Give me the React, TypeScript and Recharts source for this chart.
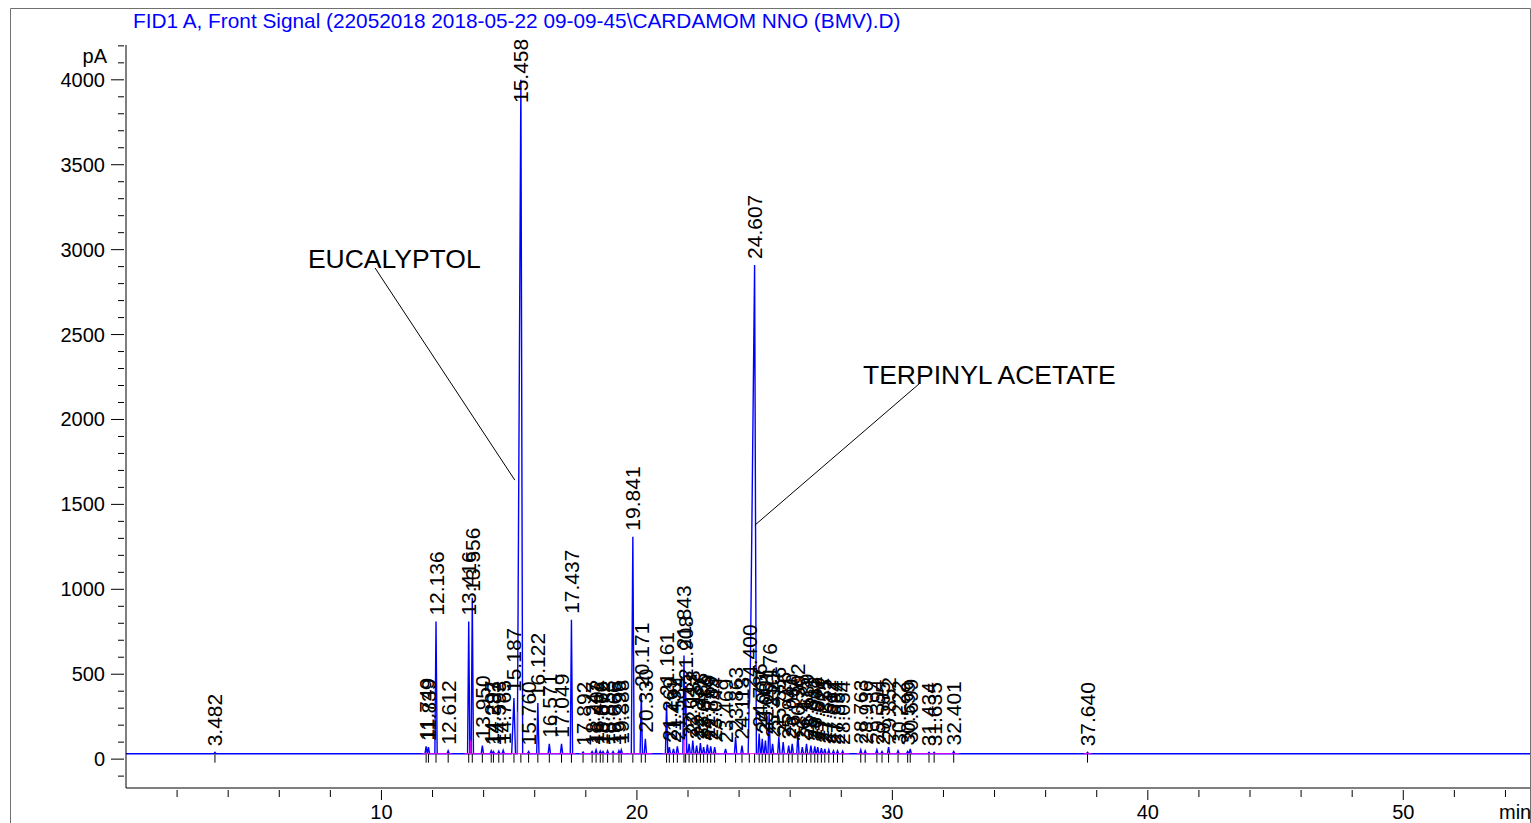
import React from 'react';
import {
  ComposedChart,
  Line,
  Scatter,
  XAxis,
  YAxis,
  ReferenceLine,
  ReferenceDot,
} from 'recharts';

const FONT = '"Liberation Sans", Arial, Helvetica, sans-serif';
const TITLE = 'FID1 A, Front Signal (22052018 2018-05-22 09-09-45\\CARDAMOM NNO (BMV).D)';

const RUN_END = 55;
const BASE = 32; // detector baseline, pA

// retention times (min) of the integrated peaks
const retentionTimes = [
  3.482, 11.749, 11.839, 12.136, 12.612, 13.416, 13.556, 13.95, 14.297, 14.383,
  14.593, 14.765, 15.187, 15.458, 15.76, 16.122, 16.571, 17.049, 17.437, 17.892,
  18.247, 18.402, 18.566, 18.672, 18.853, 19.066, 19.296, 19.388, 19.841, 20.171,
  20.33, 21.161, 21.269, 21.431, 21.584, 21.843, 21.908, 22.043, 22.188, 22.337,
  22.486, 22.612, 22.759, 22.889, 23.044, 23.469, 23.863, 24.113, 24.4, 24.607,
  24.786, 24.907, 25.031, 25.176, 25.31, 25.556, 25.726, 25.941, 26.08, 26.302,
  26.475, 26.639, 26.811, 26.962, 27.079, 27.221, 27.355, 27.512, 27.694, 27.854,
  28.054, 28.763, 28.936, 29.394, 29.595, 29.852, 30.222, 30.599, 30.699, 31.434,
  31.635, 32.401, 37.64,
];

// apex heights (pA)
const peakHeights = [
  40, 75, 70, 810, 50, 810, 950, 80, 50, 45,
  48, 52, 360, 4000, 45, 330, 90, 90, 820, 42,
  45, 55, 48, 45, 50, 45, 50, 55, 1310, 390,
  120, 335, 70, 60, 75, 610, 430, 90, 110, 80,
  95, 70, 85, 75, 70, 60, 130, 80, 380, 2910,
  150, 120, 110, 270, 90, 130, 100, 80, 90, 150,
  70, 90, 80, 75, 70, 65, 60, 55, 50, 50,
  48, 55, 50, 55, 45, 70, 50, 45, 60, 40,
  40, 45, 40,
];

// wider fronts / tails for the big peaks (min), others use DEFAULT_W
const frontWidths: Record<number, number> = { 15.458: 0.14, 24.607: 0.2, 19.841: 0.06, 15.187: 0.09 };
const tailWidths: Record<number, number> = { 15.458: 0.07, 24.607: 0.07, 15.187: 0.06, 19.841: 0.05 };
const DEFAULT_W = 0.045;

// integration baseline segments (min)
const baselineSegments = [
  [11.6, 12.75], [13.25, 17.6], [17.75, 19.6], [19.65, 20.6], [21.0, 28.3], [28.6, 32.6], [37.5, 37.8],
];
// drop lines between fused peaks: time, top (pA)
const dropTimes = [13.49, 15.33, 21.875];
const dropTops = [110, 280, 180];

const xTicks = Array.from({ length: 27 }, (_, i) => (i + 1) * 2);
const yTicks = Array.from({ length: 44 }, (_, i) => -100 + i * 100);

const peaks = retentionTimes.map((t, i) => ({
  t,
  h: peakHeights[i],
  wl: frontWidths[t] ?? DEFAULT_W,
  wr: tailWidths[t] ?? DEFAULT_W,
}));

const knots = new Set<number>([0, RUN_END]);
peaks.forEach((p) => {
  knots.add(p.t - p.wl);
  knots.add(p.t);
  knots.add(p.t + p.wr);
});
const signal = [...knots]
  .sort((a, b) => a - b)
  .map((x) => {
    let y = BASE;
    for (const p of peaks) {
      if (x >= p.t - p.wl && x <= p.t) {
        y = Math.max(y, BASE + ((p.h - BASE) * (x - (p.t - p.wl))) / p.wl);
      } else if (x > p.t && x <= p.t + p.wr) {
        y = Math.max(y, BASE + ((p.h - BASE) * (p.t + p.wr - x)) / p.wr);
      }
    }
    return { x, y };
  });

const baselineData: { x: number; y: number | null }[] = [];
baselineSegments.forEach(([a, b]) => {
  baselineData.push({ x: a, y: BASE }, { x: b, y: BASE }, { x: b + 0.001, y: null });
});

const labelData = peaks.map((p) => ({ x: p.t, y: p.h, label: p.t.toFixed(3) }));
const tickData = peaks.map((p) => ({ x: p.t, y: BASE }));

const PeakLabel = (props: any) => {
  const { cx, cy, payload } = props;
  // labels sit just above the apex, but never run past the top of the frame
  const y = Math.max(cy - 6, 103);
  return (
    <text
      transform={`translate(${cx + 7.5},${y}) rotate(-90)`}
      fontSize={21}
      fontFamily={FONT}
      fill="#000"
    >
      {payload.label}
    </text>
  );
};

const RtTick = (props: any) => {
  const { cx, cy } = props;
  return <line x1={cx} x2={cx} y1={cy} y2={cy + 9} stroke="#000" strokeWidth={1} />;
};

const XTick = (props: any) => {
  const { x, y, payload } = props;
  const major = payload.value % 10 === 0;
  return (
    <g>
      <line x1={x} x2={x} y1={y} y2={y + (major ? 10 : 7)} stroke="#000" />
      {major && (
        <text x={x} y={y + 29} textAnchor="middle" fontSize={20} fontFamily={FONT} fill="#000">
          {payload.value}
        </text>
      )}
    </g>
  );
};

const YTick = (props: any) => {
  const { x, y, payload } = props;
  const v = payload.value;
  const major = v >= 0 && v % 500 === 0;
  return (
    <g>
      <line x1={x - (major ? 13 : 6)} x2={x} y1={y} y2={y} stroke="#000" />
      {major && (
        <text x={x - 19} y={y + 7} textAnchor="end" fontSize={20} fontFamily={FONT} fill="#000">
          {v}
        </text>
      )}
    </g>
  );
};

const AnnotationText = (text: string) => (props: any) => (
  <text x={props.cx} y={props.cy} fontSize={26.5} fontFamily={FONT} fill="#000">
    {text}
  </text>
);

export default function App() {
  return (
    <div
      style={{
        position: 'fixed',
        left: 0,
        top: 0,
        width: 1531,
        height: 823,
        overflow: 'hidden',
        background: '#fff',
      }}
    >
      <ComposedChart width={1531} height={823} margin={{ top: 45, right: 0, bottom: 0, left: 0 }}>
        <XAxis
          type="number"
          dataKey="x"
          domain={[0, RUN_END]}
          ticks={xTicks}
          interval={0}
          tickSize={0}
          tickLine={false}
          tick={<XTick />}
          height={35}
          axisLine={{ stroke: '#000' }}
        />
        <YAxis
          type="number"
          dataKey="y"
          domain={[-170, 4205]}
          ticks={yTicks}
          interval={0}
          tickSize={0}
          tickLine={false}
          tick={<YTick />}
          width={126}
          axisLine={{ stroke: '#000' }}
        />
        <Line
          data={signal}
          dataKey="y"
          type="linear"
          stroke="#0000ff"
          strokeWidth={1.4}
          dot={false}
          isAnimationActive={false}
        />
        <Line
          data={baselineData}
          dataKey="y"
          type="linear"
          stroke="#ff00ff"
          strokeWidth={1}
          dot={false}
          connectNulls={false}
          isAnimationActive={false}
        />
        {dropTimes.map((t, i) => (
          <ReferenceLine
            key={t}
            segment={[{ x: t, y: BASE }, { x: t, y: dropTops[i] }]}
            stroke="#ff00ff"
          />
        ))}
        <Scatter data={tickData} shape={<RtTick />} isAnimationActive={false} />
        <Scatter data={labelData} shape={<PeakLabel />} isAnimationActive={false} />
        <ReferenceLine segment={[{ x: 9.75, y: 2892 }, { x: 15.22, y: 1643 }]} stroke="#000" />
        <ReferenceLine segment={[{ x: 31.08, y: 2214 }, { x: 24.62, y: 1378 }]} stroke="#000" />
        <ReferenceDot x={7.12} y={2892} r={0} shape={AnnotationText('EUCALYPTOL')} />
        <ReferenceDot x={28.85} y={2208} r={0} shape={AnnotationText('TERPINYL ACETATE')} />
      </ComposedChart>
      <svg
        width={1531}
        height={823}
        style={{ position: 'absolute', left: 0, top: 0, pointerEvents: 'none' }}
      >
        <path d="M10.5 823 V8.5 H1530.5 V823" fill="none" stroke="#707070" />
        <text x={133} y={28} fontSize={20.8} fontFamily={FONT} fill="#0000ff">
          {TITLE}
        </text>
        <text x={107} y={63} textAnchor="end" fontSize={20} fontFamily={FONT} fill="#000">
          pA
        </text>
        <text x={1499} y={819} fontSize={20} fontFamily={FONT} fill="#000">
          min
        </text>
      </svg>
    </div>
  );
}
